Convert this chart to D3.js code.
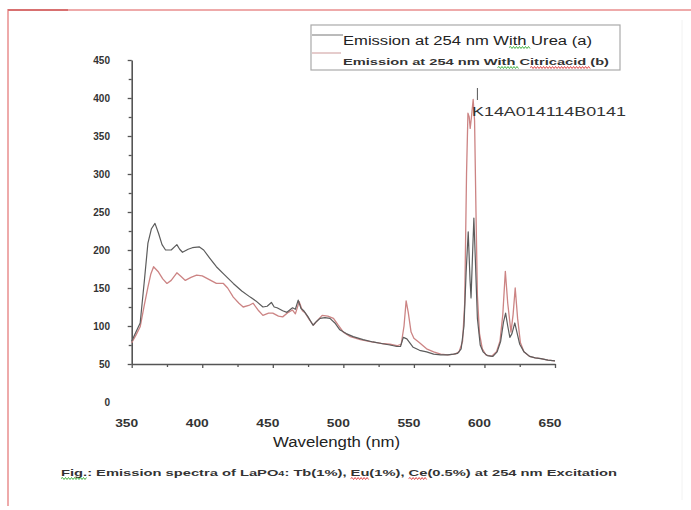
<!DOCTYPE html>
<html>
<head>
<meta charset="utf-8">
<script src="https://cdn.jsdelivr.net/npm/d3@7"></script>
<style>
  body { margin: 0; background: #fff; }
  svg { display: block; font-family: "Liberation Sans", Arial, sans-serif; }
</style>
</head>
<body>
<svg id="chart" width="691" height="510"></svg>
<script>
// ---- data ----
const ureaWavelength = [350,353,356,359,361.5,364,366.5,369,371.5,374,378,382,384,386,390,393,398,401,405,410,416,422,428,434,438,443,446,449,451,453,457,460,464,466,468,470,472,475,478.5,481,483.5,487,490.5,494,497.5,502,507,514,521,527,533,538,540.5,542.5,545,547,549.5,554,559,564,569,574,578,581,583.5,585.5,587,588.5,589.8,590.5,591.3,592.5,593.5,595,597,599,602,606,609,611.5,613.5,615,616.5,618,619.5,621.5,623,625,628,632,636,640,645,650];
const ureaIntensity  = [80,92,104,160,209,228,235,222,207,200,200,207,201,197,201,203,204,200,190,178,167,156,146,138,133,125,126,131,125,124,120,118,124,122,134,123,120,112,101,106,110,111,110,104,95,90,86,82,79,77,75,73,73,85,83,78,72,68,66,63,62,62,63,64,70,100,170,224,160,137,180,242,190,110,75,66,61,60,66,80,105,117,100,85,90,104,92,76,66,60,58,57,55,54];

const citricWavelength = [350,353,356,359,361.5,363.5,365.5,367,369,372,375,378,382,385,388,392,396,400,403,407,410,415,418,422,426,429,433,436,440,443,447,450,454,457,461,464,466,468.7,471,473,476,478.7,482,485,489,493,496,500,505,512,520,527,533,538,541,543,544.5,546,548,550,554,559,564,569,574,579,582,584.5,586,587.3,588.3,589.2,589.9,590.8,592,593,594,595,596.5,598.5,601,605,608.5,611,613,614.8,616.5,618.8,620.3,621.8,623.5,625.5,628,632,636,640,645,650];
const citricIntensity  = [78,88,99,128,151,168,178,175,171,162,156,160,170,165,160,164,167,166,163,159,156,156,150,138,130,125,127,130,120,114,117,117,113,112,118,121,116,132,120,117,108,101,108,114,113,110,102,92,86,82,79,77,76,74,76,100,133,118,92,84,78,70,66,63,62,63,66,80,130,300,380,375,360,375,398,370,250,140,90,70,62,60,66,80,115,172,130,92,115,150,110,78,66,60,58,57,55,54];

const xTickLabels = [350,400,450,500,550,600,650];
const yTickLabels = [0,50,100,150,200,250,300,350,400,450];
const annotationText = "K14A014114B0141";
const xTitle = "Wavelength (nm)";

// ---- layout ----
const svg = d3.select("#chart");
const x = d3.scaleLinear().domain([350, 650]).range([131.7, 555]);
const y = d3.scaleLinear().domain([0, 450]).range([402, 60]);
const yAxisScale = d3.scaleLinear().domain([50, 450]).range([y(50), y(450)]);

// frame
svg.append("path").attr("d", "M8,506V10H691").attr("fill", "none")
  .attr("stroke", "#eeaaaa").attr("stroke-width", 2);
svg.append("path").attr("d", "M8,10H68").attr("fill", "none")
  .attr("stroke", "#d87070").attr("stroke-width", 2);
svg.append("path").attr("d", "M682,20V500").attr("stroke", "#f2f2f2").attr("stroke-width", 1);

// y axis
const yMinor = svg.append("g").attr("transform", `translate(${x(350)},0)`)
  .call(d3.axisLeft(yAxisScale).tickValues(d3.range(75, 451, 50)).tickSize(3).tickFormat(""));
yMinor.select(".domain").remove();
const yAx = svg.append("g").attr("transform", `translate(${x(350)},0)`)
  .call(d3.axisLeft(yAxisScale).tickValues(d3.range(50, 451, 50)).tickSize(4).tickSizeOuter(0).tickFormat(""));
[yMinor, yAx].forEach(g => {
  g.selectAll("line").attr("stroke", "#555").attr("stroke-width", 1.3);
  g.selectAll("path").attr("stroke", "#555").attr("stroke-width", 1.6);
});

svg.append("g").selectAll("text").data(yTickLabels).join("text")
  .attr("x", 110).attr("y", d => y(d)).attr("dy", "0.35em")
  .attr("text-anchor", "end").attr("font-size", 10).attr("font-weight", "bold")
  .attr("fill", "#333").text(d => d);

// x axis
const xMinor = svg.append("g").attr("transform", `translate(0,${y(50)})`)
  .call(d3.axisBottom(x).tickValues(d3.range(375, 651, 50)).tickSize(3).tickFormat(""));
xMinor.select(".domain").remove();
const xAx = svg.append("g").attr("transform", `translate(0,${y(50)})`)
  .call(d3.axisBottom(x).tickValues(xTickLabels).tickSize(4).tickSizeOuter(0).tickFormat(""));
[xMinor, xAx].forEach(g => {
  g.selectAll("line").attr("stroke", "#555").attr("stroke-width", 1.3);
  g.selectAll("path").attr("stroke", "#555").attr("stroke-width", 1.6);
});

svg.append("g").selectAll("text").data(xTickLabels).join("text")
  .attr("x", d => x(d) - 5).attr("y", 427)
  .attr("text-anchor", "middle").attr("font-size", 10).attr("font-weight", "bold")
  .attr("textLength", 23).attr("lengthAdjust", "spacingAndGlyphs")
  .attr("fill", "#333").text(d => d);

svg.append("text").attr("x", 273).attr("y", 447).attr("font-size", 14)
  .attr("textLength", 127).attr("lengthAdjust", "spacingAndGlyphs")
  .attr("fill", "#222").text(xTitle);

// helper: build a text from pieces, then draw spell-check squiggles under marked pieces
function richText(parent, attrs, pieces) {
  const t = parent.append("text");
  Object.entries(attrs).forEach(([k, v]) => t.attr(k, v));
  pieces.forEach(p => {
    const ts = t.append("tspan").text(p.text);
    if (p.size) ts.attr("font-size", p.size);
  });
  const node = t.node();
  let idx = 0;
  pieces.forEach(p => {
    const n = p.text.length;
    if (p.squig) {
      const x0 = node.getStartPositionOfChar(idx).x;
      const x1 = node.getEndPositionOfChar(idx + n - 1).x;
      const by = +attrs.y + 2.5;
      let d = `M${x0},${by}`;
      let up = true;
      for (let xx = x0 + 1.5; xx <= x1; xx += 1.5) {
        d += `L${xx},${by + (up ? -1 : 1)}`;
        up = !up;
      }
      parent.append("path").attr("d", d).attr("fill", "none")
        .attr("stroke", p.squig).attr("stroke-width", 0.9);
    }
    idx += n;
  });
  return t;
}

// caption
richText(svg, {x: 61, y: 476, "font-size": 9.5, "font-weight": "bold", fill: "#333",
  textLength: 556, lengthAdjust: "spacingAndGlyphs"}, [
  {text: "Fig.", squig: "#3a3"},
  {text: ": Emission spectra of LaPO"},
  {text: "4", size: 7},
  {text: ": Tb(1%), "},
  {text: "Eu", squig: "#d33"},
  {text: "(1%), "},
  {text: "Ce", squig: "#d33"},
  {text: "(0.5%)  at 254 nm Excitation"}
]);

// lines
const line = d3.line().x(d => x(d[0])).y(d => y(d[1]));
const citric = d3.zip(citricWavelength, citricIntensity);
const urea = d3.zip(ureaWavelength, ureaIntensity);
svg.append("path").datum(citric).attr("d", line).attr("fill", "none")
  .attr("stroke", "#cc8484").attr("stroke-width", 1.3).attr("stroke-linejoin", "round");
svg.append("path").datum(urea).attr("d", line).attr("fill", "none")
  .attr("stroke", "#5c5c5c").attr("stroke-width", 1.2).attr("stroke-linejoin", "round");

// annotation
svg.append("line").attr("x1", x(595)).attr("x2", x(595)).attr("y1", 88).attr("y2", 100)
  .attr("stroke", "#555").attr("stroke-width", 1);
svg.append("text").attr("x", 472).attr("y", 116).attr("font-size", 12)
  .attr("textLength", 154).attr("lengthAdjust", "spacingAndGlyphs")
  .attr("fill", "#333").text(annotationText);

// legend
const lg = svg.append("g");
lg.append("rect").attr("x", 311).attr("y", 25).attr("width", 309).attr("height", 45)
  .attr("fill", "#fff").attr("stroke", "#aaa").attr("stroke-width", 1.2);
lg.append("line").attr("x1", 312).attr("x2", 343).attr("y1", 35).attr("y2", 35)
  .attr("stroke", "#777").attr("stroke-width", 1);
lg.append("line").attr("x1", 312).attr("x2", 341).attr("y1", 53).attr("y2", 53)
  .attr("stroke", "#c99").attr("stroke-width", 1);
richText(lg, {x: 343, y: 45, "font-size": 12.5, fill: "#222",
  textLength: 249, lengthAdjust: "spacingAndGlyphs"}, [
  {text: "Emission at 254  nm "},
  {text: "With", squig: "#3a3"},
  {text: " Urea (a)"}
]);
richText(lg, {x: 343, y: 65, "font-size": 9.5, "font-weight": "bold", fill: "#333",
  textLength: 266, lengthAdjust: "spacingAndGlyphs"}, [
  {text: "Emission at 254  nm "},
  {text: "With", squig: "#3a3"},
  {text: " "},
  {text: "Citricacid", squig: "#d33"},
  {text: "  (b)"}
]);
</script>
</body>
</html>
